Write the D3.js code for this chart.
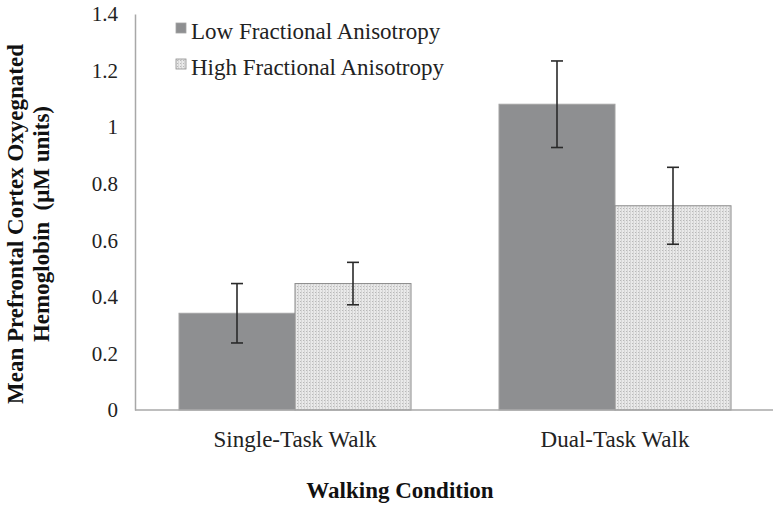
<!DOCTYPE html>
<html>
<head>
<meta charset="utf-8">
<script src="https://cdn.jsdelivr.net/npm/d3@7"></script>
<style>
  body { margin: 0; background: #ffffff; }
  svg { display: block; font-family: "Liberation Serif", "Times New Roman", serif; }
</style>
</head>
<body>
<svg id="chart" width="780" height="510"></svg>
<script>
// Chart values
const categories = ["Single-Task Walk", "Dual-Task Walk"];
const seriesNames = ["Low Fractional Anisotropy", "High Fractional Anisotropy"];
const lowFA = [0.342, 1.081];
const lowErr = [0.105, 0.153];
const highFA = [0.447, 0.722];
const highErr = [0.075, 0.136];
const yTicks = [0, 0.2, 0.4, 0.6, 0.8, 1, 1.2, 1.4];

const svg = d3.select("#chart");
const plotLeft = 135, plotRight = 775, plotTop = 14, plotBottom = 410;

// Dotted fill for the high FA bars
const defs = svg.append("defs");
const pat = defs.append("pattern")
    .attr("id", "dots")
    .attr("width", 3)
    .attr("height", 3)
    .attr("patternUnits", "userSpaceOnUse");
pat.append("rect").attr("width", 3).attr("height", 3).attr("fill", "#e9e9e9");
pat.append("rect").attr("x", 1).attr("y", 1).attr("width", 1).attr("height", 1).attr("fill", "#b8b8b8");
pat.append("rect").attr("x", 2).attr("y", 0).attr("width", 1).attr("height", 3).attr("fill", "#d6d6d6");

const x = d3.scaleBand()
    .domain(categories)
    .range([plotLeft, plotRight])
    .paddingInner(0.275)
    .paddingOuter(0.1375);

const xSub = d3.scaleBand()
    .domain(seriesNames)
    .range([0, x.bandwidth()]);

const y = d3.scaleLinear()
    .domain([0, 1.4])
    .range([plotBottom, plotTop]);

const rows = categories.map((c, i) => ({
    cat: c,
    vals: [
        { s: seriesNames[0], v: lowFA[i], e: lowErr[i] },
        { s: seriesNames[1], v: highFA[i], e: highErr[i] }
    ]
}));

// Y axis: line plus labels, no tick marks
const yAxis = svg.append("g")
    .attr("transform", `translate(${plotLeft},0)`)
    .call(d3.axisLeft(y).tickValues(yTicks).tickSize(0).tickPadding(17)
        .tickFormat(d => String(+d.toFixed(1))));
yAxis.select(".domain").attr("stroke", "#a8a8a8").attr("stroke-width", 1.5);
yAxis.selectAll("text")
    .attr("font-family", "Liberation Serif, Times New Roman, serif")
    .attr("font-size", 21)
    .attr("fill", "#222");

// Bars
const groups = svg.append("g").selectAll("g")
    .data(rows)
    .join("g")
    .attr("transform", d => `translate(${x(d.cat)},0)`);

groups.selectAll("rect")
    .data(d => d.vals)
    .join("rect")
    .attr("x", d => xSub(d.s))
    .attr("y", d => y(d.v))
    .attr("width", xSub.bandwidth())
    .attr("height", d => y(0) - y(d.v))
    .attr("fill", d => d.s === seriesNames[0] ? "#8e8f91" : "url(#dots)")
    .attr("stroke", d => d.s === seriesNames[0] ? "#a3a3a3" : "#8a8a8a")
    .attr("stroke-width", 1);

// Error bars
const eb = groups.selectAll("g.err")
    .data(d => d.vals)
    .join("g")
    .attr("class", "err")
    .attr("stroke", "#2a2a2a")
    .attr("stroke-width", 1.6);
eb.append("line")
    .attr("x1", d => xSub(d.s) + xSub.bandwidth() / 2)
    .attr("x2", d => xSub(d.s) + xSub.bandwidth() / 2)
    .attr("y1", d => y(d.v + d.e))
    .attr("y2", d => y(d.v - d.e));
[1, -1].forEach(sign => {
    eb.append("line")
        .attr("x1", d => xSub(d.s) + xSub.bandwidth() / 2 - 6)
        .attr("x2", d => xSub(d.s) + xSub.bandwidth() / 2 + 6)
        .attr("y1", d => y(d.v + sign * d.e))
        .attr("y2", d => y(d.v + sign * d.e));
});

// X baseline
svg.append("line")
    .attr("x1", plotLeft).attr("x2", 773)
    .attr("y1", y(0)).attr("y2", y(0))
    .attr("stroke", "#a8a8a8").attr("stroke-width", 1.5);

// Category labels
svg.append("g").selectAll("text")
    .data(categories)
    .join("text")
    .attr("x", d => x(d) + x.bandwidth() / 2)
    .attr("y", 447)
    .attr("text-anchor", "middle")
    .attr("font-size", 23)
    .attr("fill", "#222")
    .text(d => d);

// Axis titles
svg.append("text")
    .attr("x", 400)
    .attr("y", 498)
    .attr("text-anchor", "middle")
    .attr("font-size", 23)
    .attr("font-weight", "bold")
    .attr("fill", "#111")
    .text("Walking Condition");

const yTitle = svg.append("text")
    .attr("transform", "translate(0,224) rotate(-90)")
    .attr("text-anchor", "middle")
    .attr("font-size", 23)
    .attr("font-weight", "bold")
    .attr("fill", "#111");
yTitle.append("tspan").attr("x", 0).attr("y", 23).text("Mean Prefrontal Cortex Oxyegnated");
yTitle.append("tspan").attr("x", 0).attr("y", 49).attr("xml:space", "preserve").text("Hemoglobin  (\u03bcM units)");

// Legend
const legend = svg.append("g").selectAll("g")
    .data(seriesNames)
    .join("g")
    .attr("transform", (d, i) => `translate(176,${23 + i * 36})`);
legend.append("rect")
    .attr("width", 10).attr("height", 10)
    .attr("fill", (d, i) => i === 0 ? "#8e8f91" : "url(#dots)")
    .attr("stroke", (d, i) => i === 0 ? "#a3a3a3" : "#8a8a8a")
    .attr("stroke-width", 0.8);
legend.append("text")
    .attr("x", 15)
    .attr("y", 16)
    .attr("font-size", 23)
    .attr("fill", "#222")
    .text(d => d);
</script>
</body>
</html>
